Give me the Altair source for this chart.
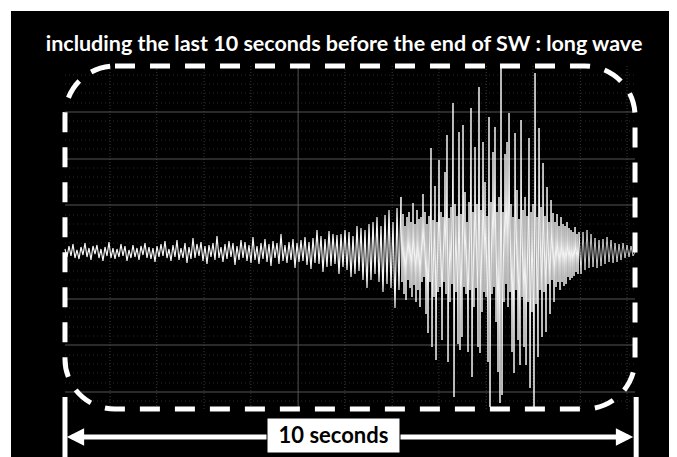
import altair as alt
import pandas as pd

title_text = "including the last 10 seconds before the end of SW : long wave"
span_label = "10 seconds"

# ground motion (amplitude units, + is up)
# pre-event noise and onset, one sample every 2 px
noise_early = [3, -5, 6, -4, 8, -6, 2, -7, 5, -3, 9, -5, 4, -8, 6, -2, 7, -6, 3, -9,
               5, -4, 10, -6, 4, -7, 3, -5, 8, -4, 6, -9, 2, -6, 7, -5, 4, -8, 6, -3,
               9, -6, 5]
noise_mid = [-7, 4, -10, 6, -5, 8, -4, 11, -6, 3, -9, 7, -5, 12, -8, 4, -6, 9, -11, 5,
             -7, 14, -6, 8, -4, 10, -9, 6, -12, 7, -5, 9, -8, 16, -6, 5, -10, 8, -7, 11,
             -5, 9, -13, 6, -8, 12, -6, 10, -9, 7, -11, 15, -8, 6, -12, 9, -7, 13, -10, 8,
             -14, 11, -6, 9, -12, 18, -9, 7, -11, 10, -8, 13, -16, 9, -10]
onset_a = [12, -9, 15, -13, 10, -17, 14, -11, 22, -12, 16, -20, 13, -15, 21, -14, 18, -12, 17, -22]
onset_b = [18, -15, 22, -18, 20, -25, 16, -22, 26, -19, 24, -28, 22, -36, 28]
onset_c = [-28, 30, -22, 35, -30, 26, -40, 37, -32, 42, -36, 30, -56, 44, -38]
# strong shaking, one sample per px
strong_1 = [55, -30, 38, -42, 26, -48, 35, -28, 40, -36, 30, -45, 49, -33, 28, -50, 42, -38, 33, -55]
strong_2 = [35, -30, 58, -25, 40, -62, 28, -81, 36, -30, 104, -95, 32, -45, 66, -108, 30, -40, 92, -35]
strong_3 = [40, -88, 35, -30, 80, -42, 117, -110, 34, -50, 45, -32, 149, -145, 48, -40, 36, -92, 120, -98]
strong_4 = [38, -85, 127, -35, 60, -42, 30, -100, 50, -38, 144, -125, 40, -55, 105, -36, 48, -95, 165, -101]
strong_5 = [42, -60, 110, -40, 70, -45, 36, -110, 135, -155, 50, -42, 100, -35, 125, -70, 40, -120, 55, -151]
strong_6 = [184, -143, 40, -50, 98, -32, 110, -55, 139, -40, 48, -100, 35, -121, 119, -38, 62, -88, 33, -113]
strong_7 = [132, -45, 42, -95, 55, -113, 36, -50, 114, -136, 40, -60, 48, -155, 179, -52, 35, -105, 124, -38]
strong_8 = [45, -85, 89, -40, 36, -80, 65, -32, 30, -62, 52, -28, 39, -50, 30, -35, 38, -30, 26, -38]
strong_9 = [35, -30, 28, -34, 26, -32, 30, -25, 24, -28, 22, -26, 20, -24, 25, -20, 18, -22, 20]
# coda, one sample every 2 px
coda_a = [-22, 20, -18, 22, -16, 18, -15, 14, -16, 12]
coda_b = [-14, 13, -12, 15, -10, 12, -11, 9, -10, 8]
coda_c = [-8, 9, -6, 7, -5, 6, -4, 0]

duration = 10.0
fine_step = duration / 570
blocks = [
    ("pre", noise_early + noise_mid + onset_a + onset_b + onset_c, 2),
    ("strong", strong_1 + strong_2 + strong_3 + strong_4 + strong_5 + strong_6 + strong_7 + strong_8 + strong_9, 1),
    ("coda", coda_a + coda_b + coda_c, 2),
]
rows = []
u = None
for name, vals, step in blocks:
    for k, v in enumerate(vals):
        u = 0 if u is None else u + (step if k > 0 else 2)
        rows.append({"t": u * fine_step, "a": v, "part": name})
# join the pieces: each piece also takes the first sample of the next one
joined = []
for i, r in enumerate(rows):
    joined.append(r)
    if i + 1 < len(rows) and rows[i + 1]["part"] != r["part"]:
        joined.append({"t": rows[i + 1]["t"], "a": rows[i + 1]["a"], "part": r["part"]})
trace_df = pd.DataFrame(joined)

grid_major_y = [-140, -93, -47, 47, 93, 140]
grid_minor_y = [-149, -131, -121, -112, -103, -84, -75, -65, -56, -37, -28, -19, -9,
                9, 19, 28, 37, 56, 65, 75, 84, 103, 112, 121, 131, 149, 159, 168, 177]
grid_minor_x = [0.79, 1.61, 2.44, 3.26, 4.91, 5.74, 6.56, 7.39, 8.21, 9.04, 9.86]
grid_major_x = [4.09]
grid_x_span = [-157, 186]
grid_y_span = [0, 10]

frame_t = [0, 10]
frame_amp = [186, -157]
post_t = [0, 10.02]
post_amp = [-145, -205]
arrow_t = [0.12, 9.88]
arrow_amp = -185
head_t = [0.184, 9.816]
head_shape = ["M-1,0L1,-1L1,1Z", "M1,0L-1,-1L-1,1Z"]
label_box_t = [3.544, 5.877]
label_box_amp = [-166, -201]
label_t = 4.71
label_amp = -184
title_t = 4.895
title_amp = 207

xs = alt.Scale(domain=[-0.947, 10.596], nice=False, zero=False)
ys = alt.Scale(domain=[-205, 241], nice=False, zero=False)


def X(f):
    return alt.X(f, type="quantitative", scale=xs, axis=None)


def Y(f):
    return alt.Y(f, type="quantitative", scale=ys, axis=None)


minor_h = alt.Chart(pd.DataFrame({"y": grid_minor_y, "x": grid_y_span[0], "x2": grid_y_span[1]})).mark_rule(
    color="#2a2a2a", strokeWidth=1, strokeDash=[1, 3]).encode(x=X("x"), x2="x2", y=Y("y"))
major_h = alt.Chart(pd.DataFrame({"y": grid_major_y, "x": grid_y_span[0], "x2": grid_y_span[1]})).mark_rule(
    color="#555555", strokeWidth=1).encode(x=X("x"), x2="x2", y=Y("y"))
minor_v = alt.Chart(pd.DataFrame({"x": grid_minor_x, "y": grid_x_span[0], "y2": grid_x_span[1]})).mark_rule(
    color="#3a3a3a", strokeWidth=1, strokeDash=[1, 2]).encode(x=X("x"), y=Y("y"), y2="y2")
major_v = alt.Chart(pd.DataFrame({"x": grid_major_x, "y": grid_x_span[0], "y2": grid_x_span[1]})).mark_rule(
    color="#555555", strokeWidth=1).encode(x=X("x"), y=Y("y"), y2="y2")

trace = alt.Chart(trace_df).mark_line(color="#f4f4f4", interpolate="linear").encode(
    x=X("t"), y=Y("a"), detail="part:N", order="t",
    strokeWidth=alt.StrokeWidth("part:N", scale=alt.Scale(domain=["pre", "strong", "coda"], range=[1.2, 0.8, 1.2]), legend=None))

frame = alt.Chart(pd.DataFrame({"x": [frame_t[0]], "x2": [frame_t[1]], "y": [frame_amp[0]], "y2": [frame_amp[1]]})).mark_rect(
    fillOpacity=0, stroke="white", strokeWidth=5, strokeDash=[20, 15], cornerRadius=50).encode(
    x=X("x"), x2="x2", y=Y("y"), y2="y2")

posts = alt.Chart(pd.DataFrame({"x": post_t, "y": post_amp[0], "y2": post_amp[1]})).mark_rule(
    color="white", strokeWidth=5).encode(x=X("x"), y=Y("y"), y2="y2")

shaft = alt.Chart(pd.DataFrame({"x": [arrow_t[0]], "x2": [arrow_t[1]], "y": [arrow_amp]})).mark_rule(
    color="white", strokeWidth=5).encode(x=X("x"), x2="x2", y=Y("y"))

heads = alt.Chart(pd.DataFrame({"x": head_t, "y": arrow_amp, "s": head_shape})).mark_point(
    filled=True, color="white", opacity=1, size=300).encode(
    x=X("x"), y=Y("y"), shape=alt.Shape("s:N", scale=None, legend=None))

label_box = alt.Chart(pd.DataFrame({"x": [label_box_t[0]], "x2": [label_box_t[1]], "y": [label_box_amp[0]], "y2": [label_box_amp[1]]})).mark_rect(
    fill="white", stroke="black", strokeWidth=1).encode(x=X("x"), x2="x2", y=Y("y"), y2="y2")

label = alt.Chart(pd.DataFrame({"x": [label_t], "y": [label_amp], "txt": [span_label]})).mark_text(
    font="Lato", fontWeight="bold", fontSize=22, color="black", align="center", baseline="middle").encode(
    x=X("x"), y=Y("y"), text="txt:N")

title = alt.Chart(pd.DataFrame({"x": [title_t], "y": [title_amp], "txt": [title_text]})).mark_text(
    font="Lato", fontWeight="bold", fontSize=21.5, color="white", align="center", baseline="middle").encode(
    x=X("x"), y=Y("y"), text="txt:N")

chart = alt.layer(minor_h, minor_v, major_h, major_v, trace, frame, posts, shaft, heads,
                  label_box, label, title).properties(
    width=658, height=446, background="white",
    padding={"left": 3, "top": 3, "right": 0, "bottom": 0},
).configure_view(fill="black", strokeWidth=0)

chart.save("out.html", embed_options={"renderer": "svg", "actions": False})
